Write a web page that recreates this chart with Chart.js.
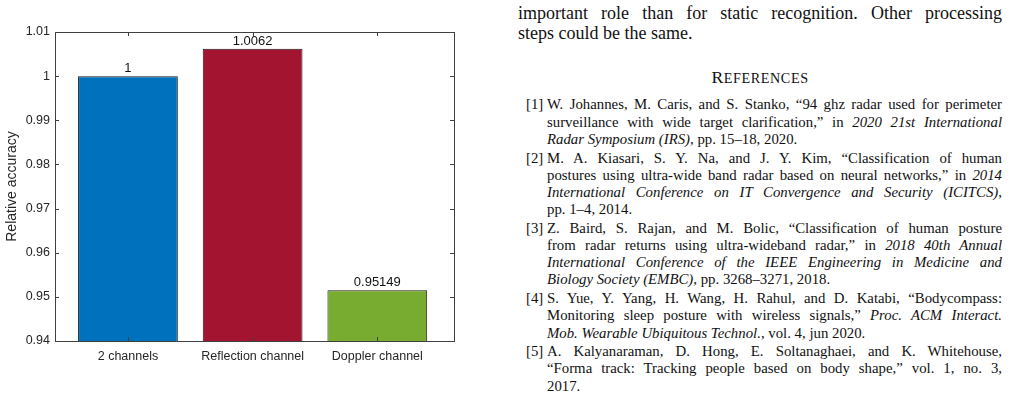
<!DOCTYPE html>
<html>
<head>
<meta charset="utf-8">
<script src="https://cdn.jsdelivr.net/npm/chart.js@4.4.1/dist/chart.umd.min.js"></script>
<style>
  html, body { margin: 0; padding: 0; background: #fff; }
  body { width: 1029px; height: 395px; position: relative; overflow: hidden; }
  #chart-acc { position: absolute; left: 0; top: 0; }
  .col { position: absolute; left: 518px; width: 484px; font-family: "Liberation Serif", "Times New Roman", serif; color: #111; }
  .body { top: 3px; font-size: 18px; line-height: 20px; }
  .head { top: 67px; font-size: 17.7px; line-height: 20px; text-align: center; letter-spacing: 0.6px; }
  .head small { font-size: 0.8em; }
  .refs { top: 96.4px; font-size: 14.8px; line-height: 17.2px; }
  .ln { white-space: nowrap; text-align: justify; text-align-last: justify; }
  .ln.end { text-align-last: left; }
  .ref { position: relative; padding-left: 29px; margin-bottom: 1.5px; }
  .ref .num { position: absolute; left: 8px; top: 0; }
</style>
</head>
<body>
<canvas id="chart-acc" width="470" height="395"></canvas>

<div class="col body">
  <div class="ln">important role than for static recognition. Other processing</div>
  <div class="ln end">steps could be the same.</div>
</div>
<div class="col head">R<small>EFERENCES</small></div>
<div class="col refs">
  <div class="ref"><span class="num">[1]</span>
    <div class="ln">W. Johannes, M. Caris, and S. Stanko, “94 ghz radar used for perimeter</div>
    <div class="ln">surveillance with wide target clarification,” in <i>2020 21st International</i></div>
    <div class="ln end"><i>Radar Symposium (IRS)</i>, pp. 15–18, 2020.</div>
  </div>
  <div class="ref"><span class="num">[2]</span>
    <div class="ln">M. A. Kiasari, S. Y. Na, and J. Y. Kim, “Classification of human</div>
    <div class="ln">postures using ultra-wide band radar based on neural networks,” in <i>2014</i></div>
    <div class="ln"><i>International Conference on IT Convergence and Security (ICITCS)</i>,</div>
    <div class="ln end">pp. 1–4, 2014.</div>
  </div>
  <div class="ref"><span class="num">[3]</span>
    <div class="ln">Z. Baird, S. Rajan, and M. Bolic, “Classification of human posture</div>
    <div class="ln">from radar returns using ultra-wideband radar,” in <i>2018 40th Annual</i></div>
    <div class="ln"><i>International Conference of the IEEE Engineering in Medicine and</i></div>
    <div class="ln end"><i>Biology Society (EMBC)</i>, pp. 3268–3271, 2018.</div>
  </div>
  <div class="ref"><span class="num">[4]</span>
    <div class="ln">S. Yue, Y. Yang, H. Wang, H. Rahul, and D. Katabi, “Bodycompass:</div>
    <div class="ln">Monitoring sleep posture with wireless signals,” <i>Proc. ACM Interact.</i></div>
    <div class="ln end"><i>Mob. Wearable Ubiquitous Technol.</i>, vol. 4, jun 2020.</div>
  </div>
  <div class="ref"><span class="num">[5]</span>
    <div class="ln">A. Kalyanaraman, D. Hong, E. Soltanaghaei, and K. Whitehouse,</div>
    <div class="ln">“Forma track: Tracking people based on body shape,” vol. 1, no. 3,</div>
    <div class="ln end">2017.</div>
  </div>
</div>

<script>
const categories = ['2 channels', 'Reflection channel', 'Doppler channel'];
const accuracy = [1, 1.0062, 0.95149];
const valueLabels = ['1', '1.0062', '0.95149'];
const barColors = ['#0072BD', '#A2142F', '#77AC30'];
const yTicks = [0.94, 0.95, 0.96, 0.97, 0.98, 0.99, 1, 1.01];

const axisColor = '#404040';
const textColor = '#262626';
const sansFont = '"Liberation Sans", Arial, Helvetica, sans-serif';

// frame box with inward ticks on all four sides, like a matlab axes
const framePlugin = {
    id: 'frame',
    afterDatasetsDraw(chart) {
        const { ctx, chartArea: a, scales } = chart;
        const len = 4;
        ctx.save();
        ctx.strokeStyle = axisColor;
        ctx.lineWidth = 1;
        ctx.beginPath();
        scales.y.ticks.forEach(t => {
            const y = Math.round(scales.y.getPixelForValue(t.value)) + 0.5;
            ctx.moveTo(a.left, y); ctx.lineTo(a.left + len, y);
            ctx.moveTo(a.right, y); ctx.lineTo(a.right - len, y);
        });
        scales.x.ticks.forEach(t => {
            const x = Math.round(scales.x.getPixelForValue(t.value)) + 0.5;
            ctx.moveTo(x, a.bottom); ctx.lineTo(x, a.bottom - len);
            ctx.moveTo(x, a.top); ctx.lineTo(x, a.top + len);
        });
        ctx.stroke();
        ctx.strokeRect(Math.round(a.left) + 0.5, Math.round(a.top) + 0.5,
            Math.round(a.right - a.left), Math.round(a.bottom - a.top));
        ctx.restore();
    }
};

// numbers written above each bar
const valuePlugin = {
    id: 'values',
    afterDatasetsDraw(chart) {
        const { ctx } = chart;
        ctx.save();
        ctx.font = '13px ' + sansFont;
        ctx.fillStyle = '#111';
        ctx.textAlign = 'center';
        ctx.textBaseline = 'bottom';
        chart.getDatasetMeta(0).data.forEach((bar, i) => {
            ctx.fillText(valueLabels[i], bar.x, bar.y - 1);
        });
        ctx.restore();
    }
};

(() => {
    const ctx = document.getElementById('chart-acc').getContext('2d');

    new Chart(ctx, {
        type: 'bar',
        data: {
            datasets: [{
                data: accuracy.map((v, i) => ({ x: i + 1, y: v })),
                backgroundColor: barColors,
                borderColor: '#1a1a1a',
                borderWidth: 1,
                borderSkipped: false,
                barPercentage: 0.8,
                categoryPercentage: 1.0
            }]
        },
        options: {
            responsive: false,
            animation: false,
            devicePixelRatio: 1,
            layout: { padding: { top: 32, right: 16, left: 0, bottom: 0 } },
            plugins: { legend: { display: false }, tooltip: { enabled: false } },
            scales: {
                x: {
                    type: 'linear',
                    min: 0.415,
                    max: 3.615,
                    offset: false,
                    grid: { display: false, drawTicks: false },
                    border: { display: false },
                    afterBuildTicks: s => { s.ticks = categories.map((c, i) => ({ value: i + 1 })); },
                    afterFit: s => { s.height = 54; },
                    ticks: {
                        autoSkip: false,
                        maxRotation: 0,
                        padding: 8,
                        color: textColor,
                        font: { family: sansFont, size: 12.5 },
                        callback: v => categories[Math.round(v) - 1]
                    }
                },
                y: {
                    min: 0.94,
                    max: 1.01,
                    grid: { display: false, drawTicks: false },
                    border: { display: false },
                    afterBuildTicks: s => { s.ticks = yTicks.map(v => ({ value: v })); },
                    afterFit: s => { s.width = 55; },
                    ticks: {
                        padding: 5,
                        color: textColor,
                        font: { family: sansFont, size: 12.5 },
                        callback: v => String(+v.toFixed(2))
                    },
                    title: {
                        display: true,
                        text: 'Relative accuracy',
                        color: textColor,
                        font: { family: sansFont, size: 14 },
                        padding: { top: 4, bottom: 4 }
                    }
                }
            }
        },
        plugins: [framePlugin, valuePlugin]
    });
})();
</script>
</body>
</html>
